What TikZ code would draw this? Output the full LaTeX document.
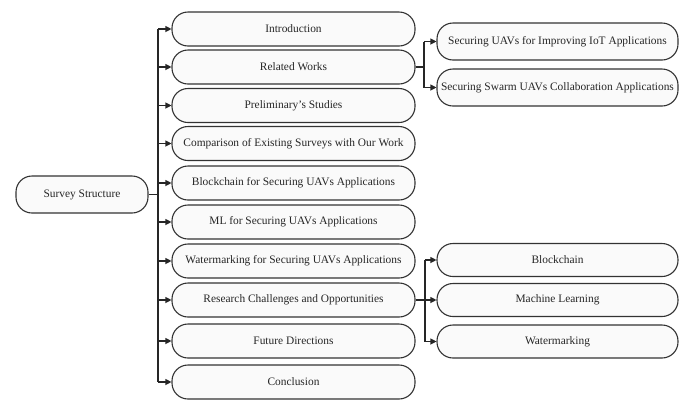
\documentclass[tikz,border=0pt]{standalone}
\usepackage{fontspec}
\setmainfont{Liberation Serif}
\usetikzlibrary{arrows.meta}
\begin{document}
\begin{tikzpicture}[x=1pt,y=-1pt,
  box/.style={draw=black!80, line width=1.1pt, fill=gray!4, rounded corners=16pt,
    inner sep=0pt, font=\fontsize{11.4}{13}\selectfont, text=black!85},
  mainbox/.style={box, minimum width=243pt, minimum height=34pt},
  subbox/.style={box, minimum width=241pt, minimum height=35pt},
  link/.style={line width=1.1pt, draw=black!85},
  arr/.style={link, -{Triangle[length=6pt,width=6pt]}}]
\useasboundingbox (0,0) rectangle (689,400);
\node[box, minimum width=132pt, minimum height=37pt] (root) at (82,194.5) {Survey Structure};
\node[mainbox] (n1) at (293.5,29) {Introduction};
\node[mainbox] (n2) at (293.5,67) {Related Works};
\node[mainbox] (n3) at (293.5,105.5) {Preliminary's Studies};
\node[mainbox] (n4) at (293.5,143.5) {Comparison of Existing Surveys with Our Work};
\node[mainbox] (n5) at (293.5,183) {Blockchain for Securing UAVs Applications};
\node[mainbox] (n6) at (293.5,222) {ML for Securing UAVs Applications};
\node[mainbox] (n7) at (293.5,261) {Watermarking for Securing UAVs Applications};
\node[mainbox] (n8) at (293.5,300) {Research Challenges and Opportunities};
\node[mainbox] (n9) at (293.5,341) {Future Directions};
\node[mainbox] (n10) at (293.5,382) {Conclusion};
\node[subbox, minimum height=37pt] (r1) at (557.5,41.5) {Securing UAVs for Improving IoT Applications};
\node[subbox, minimum height=37pt] (r2) at (557.5,87.5) {Securing Swarm UAVs Collaboration Applications};
\node[subbox, minimum height=33pt] (s1) at (557.5,260) {Blockchain};
\node[subbox, minimum height=33pt] (s2) at (557.5,300) {Machine Learning};
\node[subbox, minimum height=33pt] (s3) at (557.5,341.5) {Watermarking};
\coordinate (trunk) at (158,194.5);
\coordinate (rw) at (424,67);
\coordinate (rc) at (425,300);
\draw[link] (root.east) -- (trunk);
\draw[link] (trunk |- n1.west) -- (trunk |- n10.west);
\foreach \n in {n1,n2,n3,n4,n5,n6,n7,n8,n9,n10}
  \draw[arr] (trunk |- \n.west) -- (\n.west);
\draw[link] (n2.east) -- (rw);
\draw[link] (rw |- r1.west) -- (rw |- r2.west);
\draw[arr] (rw |- r1.west) -- (r1.west);
\draw[arr] (rw |- r2.west) -- (r2.west);
\draw[link] (n8.east) -- (rc);
\draw[link] (rc |- s1.west) -- (rc |- s3.west);
\foreach \n in {s1,s2,s3}
  \draw[arr] (rc |- \n.west) -- (\n.west);
\end{tikzpicture}
\end{document}
